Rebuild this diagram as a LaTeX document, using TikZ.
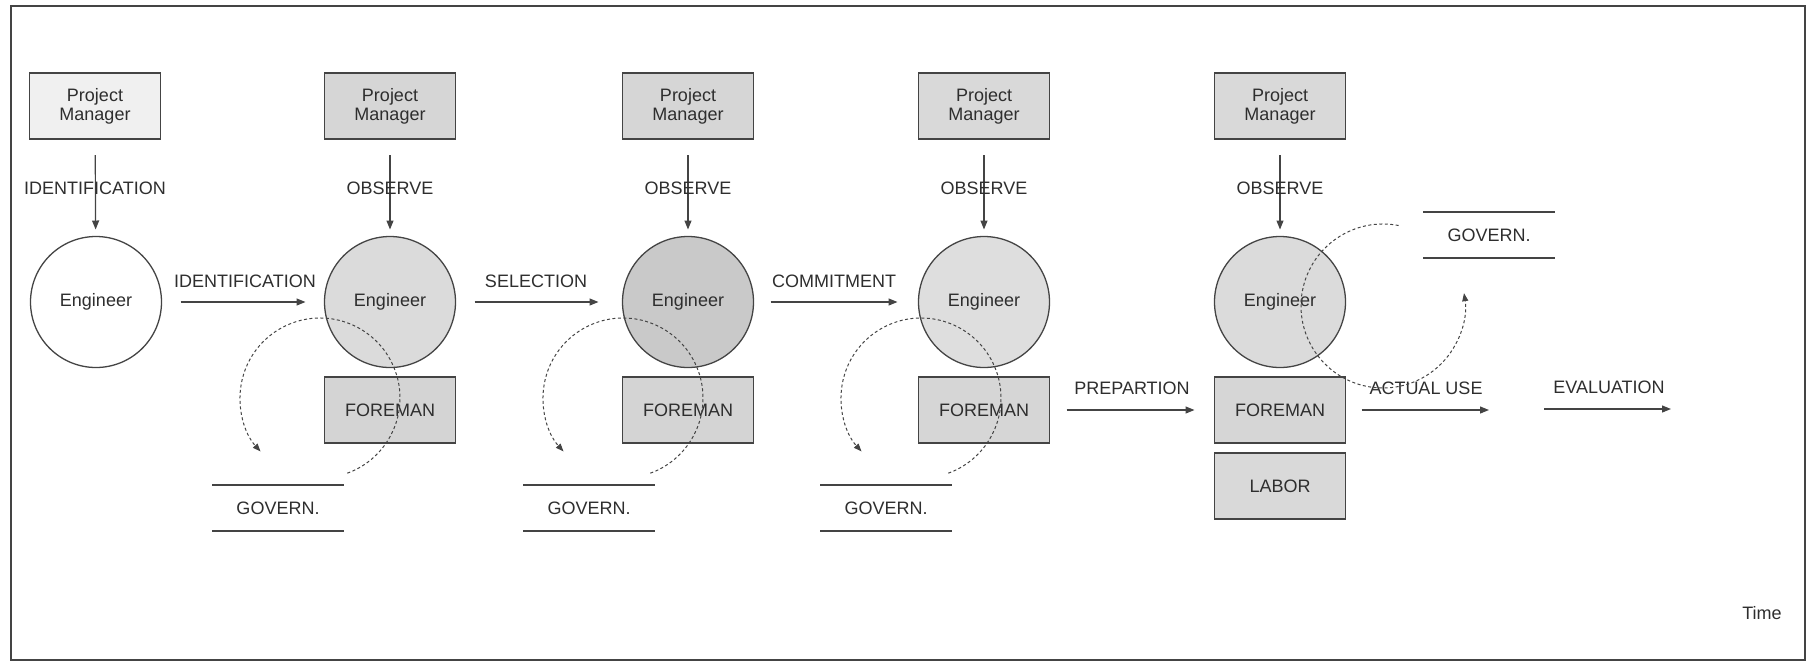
\documentclass[tikz,border=0pt]{standalone}
\usepackage{fontspec}
\setmainfont{Liberation Sans}
\usetikzlibrary{arrows.meta}
\definecolor{ink}{HTML}{444444}
\definecolor{txt}{HTML}{2E2E2E}
\begin{document}
\begin{tikzpicture}[x=1pt,y=-1pt,
  font=\fontsize{18}{21}\selectfont, text=txt,
  every node/.style={inner sep=0pt, outer sep=0pt},
  actor/.style={draw=ink, line width=1.3pt, minimum width=131pt, minimum height=66pt, align=center, font=\fontsize{18}{19}\selectfont},
  eng/.style={circle, draw=ink, line width=1.3pt, minimum size=131pt},
  flow/.style={draw=ink, line width=1.2pt, -{Triangle[length=9pt,width=7pt]}},
  influence/.style={draw=ink, line width=1pt, dash pattern=on 3pt off 2.5pt, -{Triangle[length=8pt,width=6pt]}},
  govline/.style={draw=ink, line width=1.3pt},
  govern/.style={minimum width=132pt, minimum height=46pt}]
\useasboundingbox (0,0) rectangle (1807,662);
\draw[ink, line width=1.6pt] (11,6) rectangle (1805,660);
\draw[ink, line width=2.4pt] (11,6) -- (1805,6);

% project managers
\node[actor, fill=gray!12] (pm1) at (95,106) {Project\\Manager};
\node[actor, fill=gray!32] (pm2) at (390,106) {Project\\Manager};
\node[actor, fill=gray!32] (pm3) at (688,106) {Project\\Manager};
\node[actor, fill=gray!30] (pm4) at (984,106) {Project\\Manager};
\node[actor, fill=gray!30] (pm5) at (1280,106) {Project\\Manager};

% engineers
\node[eng, fill=white] (en1) at (96,302) {Engineer};
\node[eng, fill=gray!28] (en2) at (390,302) {Engineer};
\node[eng, fill=gray!42] (en3) at (688,302) {Engineer};
\node[eng, fill=gray!26] (en4) at (984,302) {Engineer};
\node[eng, fill=gray!28] (en5) at (1280,302) {Engineer};

% foremen and labor
\node[actor, fill=gray!34] (fm2) at (390,410) {FOREMAN};
\node[actor, fill=gray!34] (fm3) at (688,410) {FOREMAN};
\node[actor, fill=gray!32] (fm4) at (984,410) {FOREMAN};
\node[actor, fill=gray!32] (fm5) at (1280,410) {FOREMAN};
\node[actor, fill=gray!30] (lb5) at (1280,486) {LABOR};

% government
\node[govern] (gv2) at (278,508) {GOVERN.};
\node[govern] (gv3) at (589,508) {GOVERN.};
\node[govern] (gv4) at (886,508) {GOVERN.};
\node[govern] (gv5) at (1489,235) {GOVERN.};
\foreach \g in {gv2,gv3,gv4,gv5}{
  \draw[govline] (\g.north west) -- (\g.north east);
  \draw[govline] (\g.south west) -- (\g.south east);
}

% manager to engineer
\foreach \i in {1,...,5}{
  \draw[flow, shorten <=16pt, shorten >=7pt] (pm\i) -- (en\i);
}
\node at (95,188) {IDENTIFICATION};
\foreach \x in {390,688,984,1280}{ \node at (\x,188) {OBSERVE}; }

% engineer to engineer
\draw[flow, shorten <=19pt, shorten >=19pt] (en1) -- (en2);
\draw[flow, shorten <=19pt, shorten >=24pt] (en2) -- (en3);
\draw[flow, shorten <=17pt, shorten >=21pt] (en3) -- (en4);
\node at (245,281) {IDENTIFICATION};
\node at (536,281) {SELECTION};
\node at (834,281) {COMMITMENT};

% foreman stages
\coordinate (au) at (1489,410);
\coordinate (ev0) at (1544,409);
\coordinate (ev1) at (1671,409);
\draw[flow, shorten <=17pt, shorten >=20pt] (fm4) -- (fm5);
\draw[flow, shorten <=16pt] (fm5) -- (au);
\draw[flow] (ev0) -- (ev1);
\node at (1132,388) {PREPARTION};
\node at (1426,388) {ACTUAL USE};
\node at (1609,387) {EVALUATION};

% feedback loops
\coordinate (lp2) at (320,398);
\coordinate (lp3) at (623,398);
\coordinate (lp4) at (921,398);
\coordinate (lp5) at (1383,306);
\foreach \c in {lp2,lp3,lp4}{
  \draw[influence] (\c) ++(-70:80pt) arc[start angle=-70, end angle=222, radius=80pt];
}
\draw[influence] (lp5) ++(79:82pt) arc[start angle=79, end angle=369, radius=82pt];

\node at (1762,613) {Time};
\end{tikzpicture}
\end{document}
